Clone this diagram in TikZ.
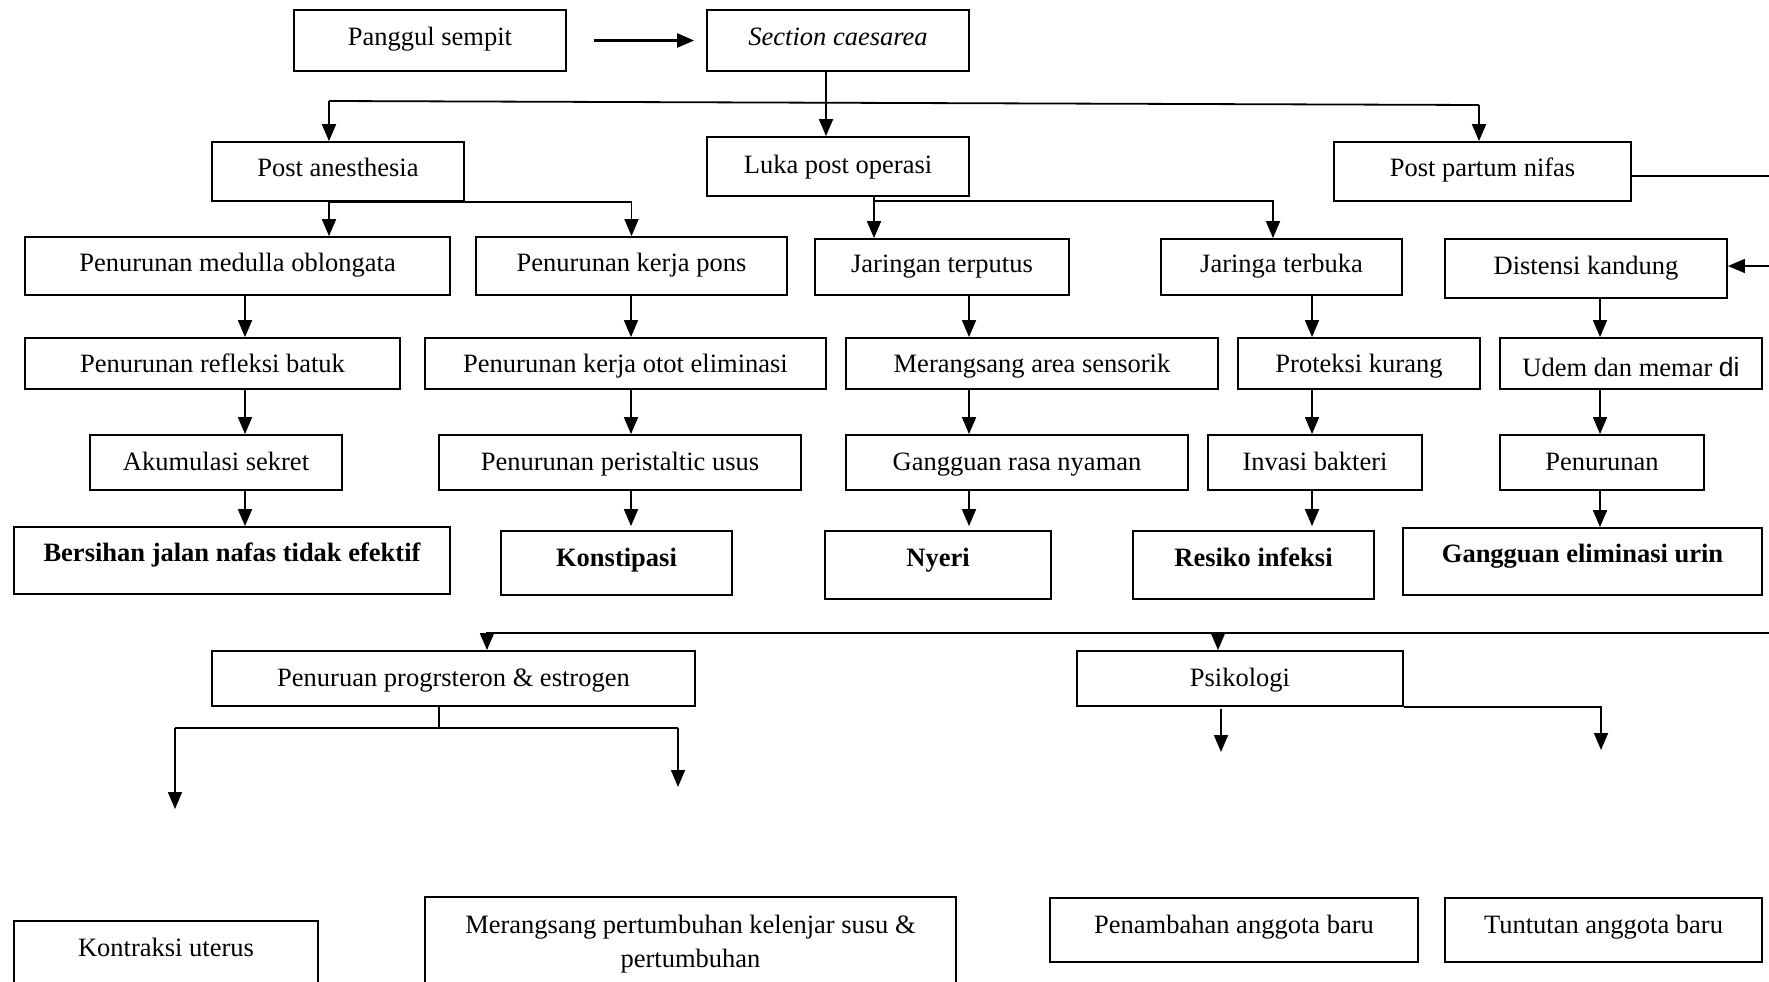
\documentclass[tikz,border=0pt]{standalone}
\usepackage{fontspec}
\setmainfont{Liberation Serif}
\newfontfamily\disans{Liberation Sans}
\usetikzlibrary{arrows.meta}
\begin{document}
\begin{tikzpicture}[x=1pt,y=-1pt,
  box/.style={draw,line width=1.8pt,rectangle,inner sep=0pt,
    font=\fontsize{26.5pt}{34pt}\selectfont,text height=18pt,text depth=6pt,align=center},
  ln/.style={line width=1.8pt},
  thinln/.style={line width=1.2pt},
  arr/.style={line width=1.8pt,-{Triangle[length=17pt,width=14pt]}}]
\useasboundingbox (0,0) rectangle (1769,982);
\clip (0,0) rectangle (1769,982);
\fill[white] (0,0) rectangle (1769,982);

% row 0
\node[box,minimum width=272pt,minimum height=61pt,text depth=8pt] (panggul) at (430,40.5) {Panggul sempit};
\node[box,minimum width=262pt,minimum height=61pt,text depth=8pt] (section) at (838,40.5) {\itshape Section caesarea};
% row 1
\node[box,minimum width=252pt,minimum height=59pt,text depth=8pt] (postan) at (338,171.5) {Post anesthesia};
\node[box,minimum width=262pt,minimum height=59pt,text depth=5pt] (luka) at (838,166.5) {Luka post operasi};
\node[box,minimum width=297pt,minimum height=59pt,text depth=8pt] (postpartum) at (1482.5,171.5) {Post partum nifas};
% row 2
\node[box,minimum width=425pt,minimum height=58pt,text depth=7pt] (medulla) at (237.5,266) {Penurunan medulla oblongata};
\node[box,minimum width=311pt,minimum height=58pt,text depth=7pt] (pons) at (631.5,266) {Penurunan kerja pons};
\node[box,minimum width=254pt,minimum height=56pt,text depth=7pt] (terputus) at (942,267) {Jaringan terputus};
\node[box,minimum width=241pt,minimum height=56pt,text depth=7pt] (terbuka) at (1281.5,267) {Jaringa terbuka};
\node[box,minimum width=282pt,minimum height=59pt,text depth=7pt] (distensi) at (1586,268.5) {Distensi kandung};
% row 3
\node[box,minimum width=375pt,minimum height=51pt,text depth=1pt] (refleksi) at (212.5,363.5) {Penurunan refleksi batuk};
\node[box,minimum width=401pt,minimum height=51pt,text depth=1pt] (otot) at (625.5,363.5) {Penurunan kerja otot eliminasi};
\node[box,minimum width=372pt,minimum height=51pt,text depth=1pt] (sensorik) at (1032,363.5) {Merangsang area sensorik};
\node[box,minimum width=242pt,minimum height=51pt,text depth=1pt] (proteksi) at (1359,363.5) {Proteksi kurang};
\node[box,minimum width=262pt,minimum height=51pt,text height=26pt,text depth=0pt] (udem) at (1631,363.5) {Udem dan memar {\disans di}};
% row 4
\node[box,minimum width=252pt,minimum height=55pt,text depth=3pt] (akumulasi) at (216,462.5) {Akumulasi sekret};
\node[box,minimum width=362pt,minimum height=55pt,text depth=3pt] (peristaltic) at (620,462.5) {Penurunan peristaltic usus};
\node[box,minimum width=342pt,minimum height=55pt,text depth=3pt] (nyaman) at (1017,462.5) {Gangguan rasa nyaman};
\node[box,minimum width=214pt,minimum height=55pt,text depth=3pt] (invasi) at (1315,462.5) {Invasi bakteri};
\node[box,minimum width=204pt,minimum height=55pt,text depth=3pt] (penurunan) at (1602,462.5) {Penurunan};
% row 5
\node[box,minimum width=436pt,minimum height=67pt,text depth=16pt] (bersihan) at (232,560.5) {\bfseries Bersihan jalan nafas tidak efektif};
\node[box,minimum width=231pt,minimum height=64pt,text depth=11pt] (konstipasi) at (616.5,563) {\bfseries Konstipasi};
\node[box,minimum width=226pt,minimum height=68pt,text depth=15pt] (nyeri) at (938,565) {\bfseries Nyeri};
\node[box,minimum width=241pt,minimum height=68pt,text depth=15pt] (resiko) at (1253.5,565) {\bfseries Resiko infeksi};
\node[box,minimum width=359pt,minimum height=67pt,text depth=16pt] (eliminasi) at (1582.5,561.5) {\bfseries Gangguan eliminasi urin};
% bottom part
\node[box,minimum width=483pt,minimum height=55pt,text depth=3pt] (prog) at (453.5,678.5) {Penuruan progrsteron \& estrogen};
\node[box,minimum width=326pt,minimum height=55pt,text depth=3pt] (psikologi) at (1240,678.5) {Psikologi};
\node[box,minimum width=304pt,minimum height=64pt,text depth=11pt] (kontraksi) at (166,953) {Kontraksi uterus};
\node[box,minimum width=531pt,minimum height=96pt,text height=52pt,text depth=6pt] (kelenjar) at (690.5,944.8) {Merangsang pertumbuhan kelenjar susu \&\\pertumbuhan};
\node[box,minimum width=368pt,minimum height=64pt,text depth=12pt] (penambahan) at (1234,930) {Penambahan anggota baru};
\node[box,minimum width=317pt,minimum height=64pt,text depth=12pt] (tuntutan) at (1603.5,930) {Tuntutan anggota baru};

% helper coordinates
\coordinate (sx) at (826,0);
\coordinate (busL) at (329,101);
\coordinate (busR) at (1479,105);
\coordinate (colP) at (329,0);
\coordinate (colL) at (874,0);
\coordinate (lk) at (874,201);
\coordinate (colT) at (1273,0);
\coordinate (c1) at (245,0);
\coordinate (c2) at (631,0);
\coordinate (c3) at (969,0);
\coordinate (c4) at (1312,0);
\coordinate (c5) at (1600,0);
\coordinate (e1) at (1775,176);
\coordinate (e2) at (1775,266);
\coordinate (e3) at (1775,633);
\coordinate (cb) at (487,0);
\coordinate (cs) at (1218,0);
\coordinate (pj) at (439,728);
\coordinate (pl) at (175,728);
\coordinate (pr) at (678,728);
\coordinate (pld) at (175,809);
\coordinate (prd) at (678,787);
\coordinate (ps1) at (1221,0);
\coordinate (ps1d) at (1221,752);
\coordinate (ps2d) at (1601,750);

% top connectors
\draw[arr,line width=2.4pt,shorten <=27pt,shorten >=12pt] (panggul) -- (section);
\draw[arr] (section.south -| sx) -- (luka.north -| sx);
\draw[ln] (busL) -- (busR);
\draw[arr] (busL) -- (busL |- postan.north);
\draw[arr] (busR) -- (busR |- postpartum.north);
% post anesthesia branches
\draw[arr] (postan.south -| colP) -- (medulla.north -| colP);
\draw[arr] (postan.south -| colP) -| (pons.north);
% luka branches
\draw[arr] ([yshift=2pt]luka.south -| colL) -- (terputus.north -| colL);
\draw[arr] (lk) -| (terbuka.north -| colT);
% post partum to right edge
\draw[ln] (postpartum.east |- e1) -- (e1) -- (e3);
\draw[arr] (e2) -- (distensi.east |- e2);
% columns
\draw[arr] (medulla.south -| c1) -- (refleksi.north -| c1);
\draw[arr] (refleksi.south -| c1) -- (akumulasi.north -| c1);
\draw[arr] (akumulasi.south -| c1) -- (bersihan.north -| c1);
\draw[arr] (pons.south -| c2) -- (otot.north -| c2);
\draw[arr] (otot.south -| c2) -- (peristaltic.north -| c2);
\draw[arr,shorten >=4pt] (peristaltic.south -| c2) -- (konstipasi.north -| c2);
\draw[arr] (terputus.south -| c3) -- (sensorik.north -| c3);
\draw[arr] (sensorik.south -| c3) -- (nyaman.north -| c3);
\draw[arr,shorten >=4pt] (nyaman.south -| c3) -- (nyeri.north -| c3);
\draw[arr] (terbuka.south -| c4) -- (proteksi.north -| c4);
\draw[arr] (proteksi.south -| c4) -- (invasi.north -| c4);
\draw[arr,shorten >=4pt] (invasi.south -| c4) -- (resiko.north -| c4);
\draw[arr] (distensi.south -| c5) -- (udem.north -| c5);
\draw[arr] (udem.south -| c5) -- (penurunan.north -| c5);
\draw[arr] (penurunan.south -| c5) -- (eliminasi.north -| c5);
% bottom bus
\draw[arr] (e3) -| (prog.north -| cb);
\draw[arr] (cs |- e3) -- (psikologi.north -| cs);
% progesteron split
\draw[thinln] (prog.south -| pj) -- (pj);
\draw[ln] (pl) -- (pr);
\draw[arr] (pl) -- (pld);
\draw[arr] (pr) -- (prd);
% psikologi split
\draw[arr] ([yshift=-2pt]psikologi.south -| ps1) -- (ps1d);
\draw[arr] (psikologi.south east) -| (ps2d);
\end{tikzpicture}
\end{document}
